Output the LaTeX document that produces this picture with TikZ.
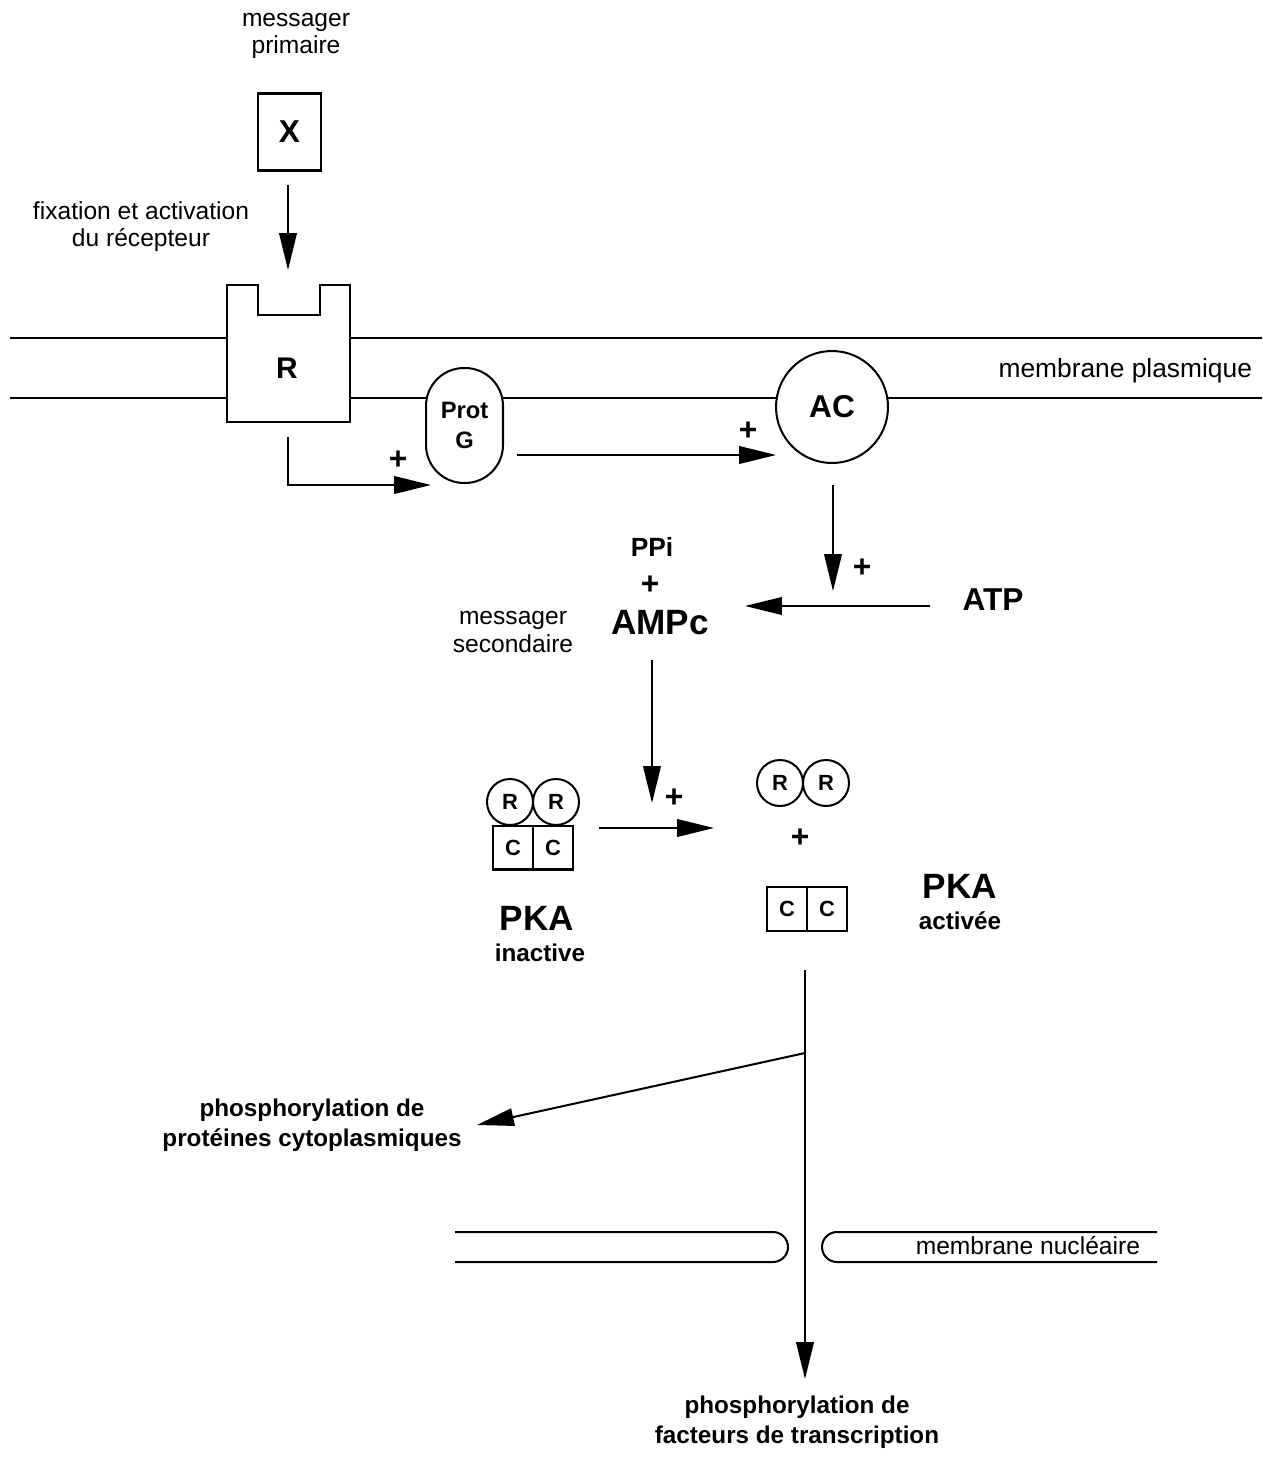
\documentclass[tikz,border=0pt]{standalone}
\usepackage{fontspec}
\setmainfont{Liberation Sans}
\usetikzlibrary{arrows.meta}
\begin{document}
\begin{tikzpicture}[x=0.02cm,y=-0.02cm,line width=1.15pt,
  arr/.style={-{Triangle[length=21pt,width=10pt]}},
  reg/.style={font=\fontsize{14}{15.5}\selectfont,align=center,inner sep=0pt},
  bsmall/.style={font=\fontsize{12.5}{15.5}\selectfont\bfseries,align=center,inner sep=0pt},
  bmid/.style={font=\fontsize{13.8}{17}\selectfont\bfseries,align=center,inner sep=0pt},
  bbig/.style={font=\fontsize{20}{22}\selectfont\bfseries,align=center,inner sep=0pt},
  plus/.style={font=\fontsize{18}{18}\selectfont\bfseries,inner sep=0pt},
  sub/.style={draw,circle,minimum size=0.92cm,inner sep=0pt,font=\fontsize{12.5}{12}\selectfont\bfseries},
  cbox/.style={draw,rectangle,minimum width=0.8cm,minimum height=0.88cm,inner sep=0pt,font=\fontsize{12.5}{12}\selectfont\bfseries}]
\useasboundingbox (0,0) rectangle (1262,1463);

% top
\node[reg] (prim) at (296,36) {messager\\primaire};
\node[draw,minimum width=1.26cm,minimum height=1.54cm,inner sep=0pt,font=\fontsize{18}{18}\selectfont\bfseries] (X) at (289.5,132) {X};
\node[reg] (fix) at (141,227) {fixation et activation\\du r\'ecepteur};

% plasma membrane
\draw (10,338) -- (227,338);
\draw (350,338) -- (1262,338);
\draw (10,398) -- (227,398);
\draw (350,398) -- (426,398);
\draw (503,398) -- (777,398);
\draw (888,398) -- (1262,398);
\node[reg,font=\fontsize{15}{16}\selectfont,anchor=east] (mp) at (1253,371) {membrane plasmique};

% receptor
\draw (227,285) -- (227,422) -- (350,422) -- (350,285) -- (320,285) -- (320,315) -- (258,315) -- (258,285) -- cycle;
\node[font=\fontsize{17}{17}\selectfont\bfseries,inner sep=0pt] (R) at (287,368) {R};

% Prot G
\node[draw,minimum width=1.54cm,minimum height=2.3cm,rounded corners=0.76cm,inner sep=0pt,
      font=\fontsize{13.5}{17}\selectfont\bfseries,align=center] (G) at (464.5,425.5) {Prot\\G};

% AC
\node[draw,circle,minimum size=2.24cm,inner sep=0pt,font=\fontsize{18}{18}\selectfont\bfseries] (AC) at (832,407) {AC};

% arrows top
\coordinate (x1) at (288,185);
\coordinate (x2) at (288,270);
\draw[arr] (x1) -- (x2);

\coordinate (r1) at (288,437);
\coordinate (g1) at (431,485);
\draw[arr] (r1) |- (g1);
\node[plus] (p1) at (398,460) {+};

\coordinate (g2) at (517,455);
\coordinate (a1) at (776,455);
\draw[arr] (g2) -- (a1);
\node[plus] (p2) at (748,431) {+};

% AMPc region
\node[bsmall,font=\fontsize{15}{15}\selectfont\bfseries] (PPi) at (652,547) {PPi};
\node[plus] (p3) at (650,585) {+};
\node[bbig] (AMPc) at (660,623) {AMPc};
\node[reg] (ms) at (513,632) {messager\\secondaire};
\node[font=\fontsize{18}{18}\selectfont\bfseries,inner sep=0pt] (ATP) at (993,600) {ATP};

\coordinate (a2) at (833,485);
\coordinate (a3) at (833,591);
\draw[arr] (a2) -- (a3);
\node[plus] (p4) at (862,568) {+};

\coordinate (t1) at (930,606);
\coordinate (t2) at (745,606);
\draw[arr] (t1) -- (t2);

\coordinate (m1) at (652,660);
\coordinate (m2) at (652,803);
\draw[arr] (m1) -- (m2);
\node[plus] (p5) at (674,798) {+};

% PKA inactive
\node[sub] (Ri1) at (510,802) {R};
\node[sub] (Ri2) at (556,802) {R};
\node[cbox] (Ci1) at (513,847.5) {C};
\node[cbox] (Ci2) at (553,847.5) {C};
\node[bbig] (PKAi) at (537,918) {PKA};
\node[bmid] (inact) at (540,953) {inactive};

\coordinate (k1) at (599,828);
\coordinate (k2) at (714,828);
\draw[arr] (k1) -- (k2);

% PKA active
\node[sub] (Ra1) at (780,783) {R};
\node[sub] (Ra2) at (826,783) {R};
\node[plus] (p6) at (800,838) {+};
\node[cbox] (Ca1) at (787,909) {C};
\node[cbox] (Ca2) at (827,909) {C};
\node[bbig] (PKAa) at (960,886) {PKA};
\node[bmid] (act) at (960,921) {activ\'ee};

% lower arrows
\coordinate (v1) at (805,970);
\coordinate (v2) at (805,1053);
\coordinate (v3) at (805,1379);
\coordinate (c1) at (477,1125);
\draw[arr] (v1) -- (v3);
\draw[arr] (v2) -- (c1);
\node[bmid] (phc) at (312,1125) {phosphorylation de\\prot\'eines cytoplasmiques};
\node[bmid] (pht) at (797,1422) {phosphorylation de\\facteurs de transcription};

% nuclear membrane
\draw (455,1232) -- (773,1232) arc[start angle=-90,end angle=90,radius=15] -- (455,1262);
\draw (1157,1232) -- (837,1232) arc[start angle=-90,end angle=-270,radius=15] -- (1157,1262);
\node[reg,anchor=east] (mn) at (1141,1246) {membrane nucl\'eaire};
\end{tikzpicture}
\end{document}
